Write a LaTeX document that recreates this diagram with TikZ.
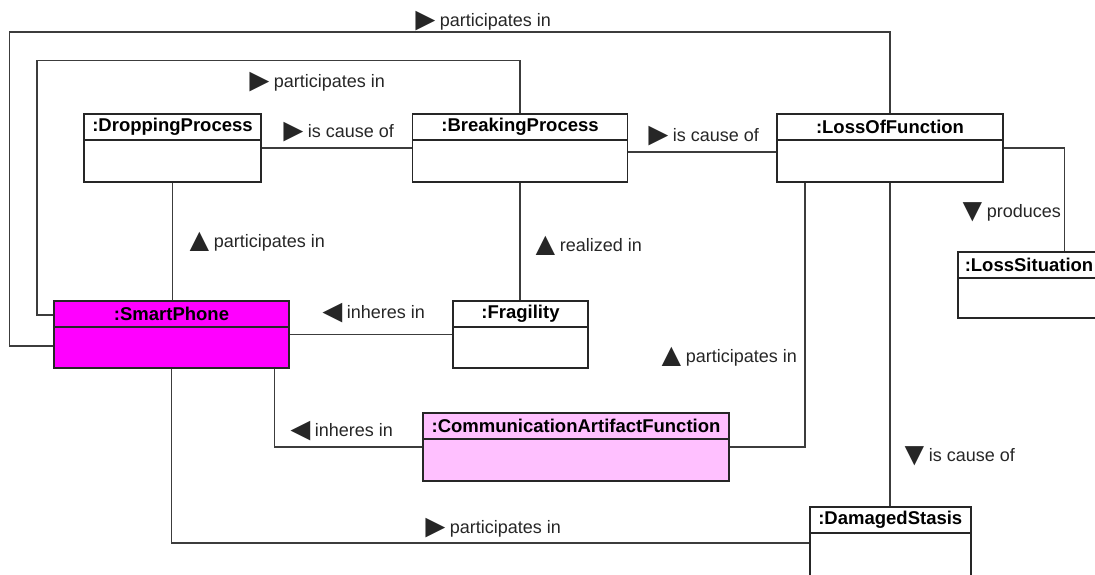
\documentclass[tikz,border=0pt]{standalone}
\usepackage{fontspec}
\setmainfont{Liberation Sans}
\usetikzlibrary{calc}

\definecolor{wire}{HTML}{3C3C3C}
\definecolor{phonefill}{HTML}{FF00FF}
\definecolor{funcfill}{HTML}{FFC0FF}

% reading direction mark, larger than the text round it
\newcommand{\readdir}[1]{\raisebox{-3.5pt}{\smash{\fontsize{33}{33}\selectfont #1}}\kern-7pt\relax}

\begin{document}
\begin{tikzpicture}[x=1pt, y=-1pt,
    objbody/.style={draw=black!85, line width=1.6pt, inner sep=0pt, fill=white},
    objhead/.style={draw=black!85, line width=1.6pt, inner sep=0pt, anchor=north,
      minimum height=26pt, font=\fontsize{18.5}{20}\selectfont\bfseries},
    link/.style={wire, line width=1.4pt},
    rolename/.style={anchor=west, inner sep=0pt, text=black!85,
      font=\fontsize{18}{20}\selectfont}]
    % Fix the page to the size of the diagram
    \useasboundingbox (0,0) rectangle (1095,574);
    \clip (0,0) rectangle (1095,574);

    % Object boxes (body first, header on top)
    \node[objbody, minimum width=177pt, minimum height=68pt] (drop) at (172.5,148) {};
    \node[objhead, minimum width=177pt] (dropT) at (drop.north) {:DroppingProcess};
    \node[objbody, minimum width=215pt, minimum height=68pt] (brk) at (520,148) {};
    \node[objhead, minimum width=215pt] (brkT) at (brk.north) {:BreakingProcess};
    \node[objbody, minimum width=226pt, minimum height=68pt] (lof) at (890,148) {};
    \node[objhead, minimum width=226pt] (lofT) at (lof.north) {:LossOfFunction};
    \node[objbody, minimum width=142pt, minimum height=66pt] (losssit) at (1029,285) {};
    \node[objhead, minimum width=142pt] (losssitT) at (losssit.north) {:LossSituation};
    \node[objbody, minimum width=235pt, minimum height=67pt, fill=phonefill] (phone) at (171.5,334.5) {};
    \node[objhead, minimum width=235pt, fill=phonefill] (phoneT) at (phone.north) {:SmartPhone};
    \node[objbody, minimum width=135pt, minimum height=67pt] (frag) at (520.5,334.5) {};
    \node[objhead, minimum width=135pt] (fragT) at (frag.north) {:Fragility};
    \node[objbody, minimum width=306pt, minimum height=68pt, fill=funcfill] (caf) at (576,447) {};
    \node[objhead, minimum width=306pt, fill=funcfill] (cafT) at (caf.north) {:CommunicationArtifactFunction};
    \node[objbody, minimum width=161pt, minimum height=72pt] (stasis) at (890.3,543) {};
    \node[objhead, minimum width=161pt] (stasisT) at (stasis.north) {:DamagedStasis};

    % Bends of the two loops round the left side
    \coordinate (outer) at (9.6,32);
    \coordinate (inner) at (36.8,60.7);

    % Links between the objects
    \draw[link] ([yshift=-11.5pt]phone.west) -| (outer) -| (lof.north);
    \draw[link] ([yshift=19.5pt]phone.west) -| (inner) -| (brk.north);
    \draw[link] (drop.east) -- (brk.west);
    \draw[link] ([yshift=-4pt]brk.east) -- ([yshift=-4pt]lof.west);
    \draw[link] (lof.east) -| ([xshift=35.6pt]losssit.north);
    \draw[link] (drop.south) -- (drop.south |- phone.north);
    \draw[link] (brk.south) -- (brk.south |- frag.north);
    \draw[link] (phone.east) -- (frag.west);
    \draw[link] ([xshift=102.8pt]phone.south) |- (caf.west);
    \draw[link] (caf.east) -| ([xshift=-85.2pt]lof.south);
    \draw[link] (lof.south) -- (lof.south |- stasis.north);
    \draw[link] (phone.south) |- (stasis.west);

    % Role names with reading direction
    \node[rolename] (outerR) at (409,22) {\readdir{►} participates in};
    \node[rolename] (innerR) at (243,83) {\readdir{►} participates in};
    \node[rolename] (causeA) at (277,133) {\readdir{►} is cause of};
    \node[rolename] (causeB) at (642,137) {\readdir{►} is cause of};
    \node[rolename] (dropR) at (183,243) {\readdir{▲} participates in};
    \node[rolename] (realR) at (529,247) {\readdir{▲} realized in};
    \node[rolename] (prodR) at (956,213) {\readdir{▼} produces};
    \node[rolename] (inhereA) at (316,314) {\readdir{◄} inheres in};
    \node[rolename] (lofR) at (655,358) {\readdir{▲} participates in};
    \node[rolename] (inhereB) at (284,432) {\readdir{◄} inheres in};
    \node[rolename] (causeC) at (898,457) {\readdir{▼} is cause of};
    \node[rolename] (stasisR) at (419,529) {\readdir{►} participates in};
\end{tikzpicture}
\end{document}
